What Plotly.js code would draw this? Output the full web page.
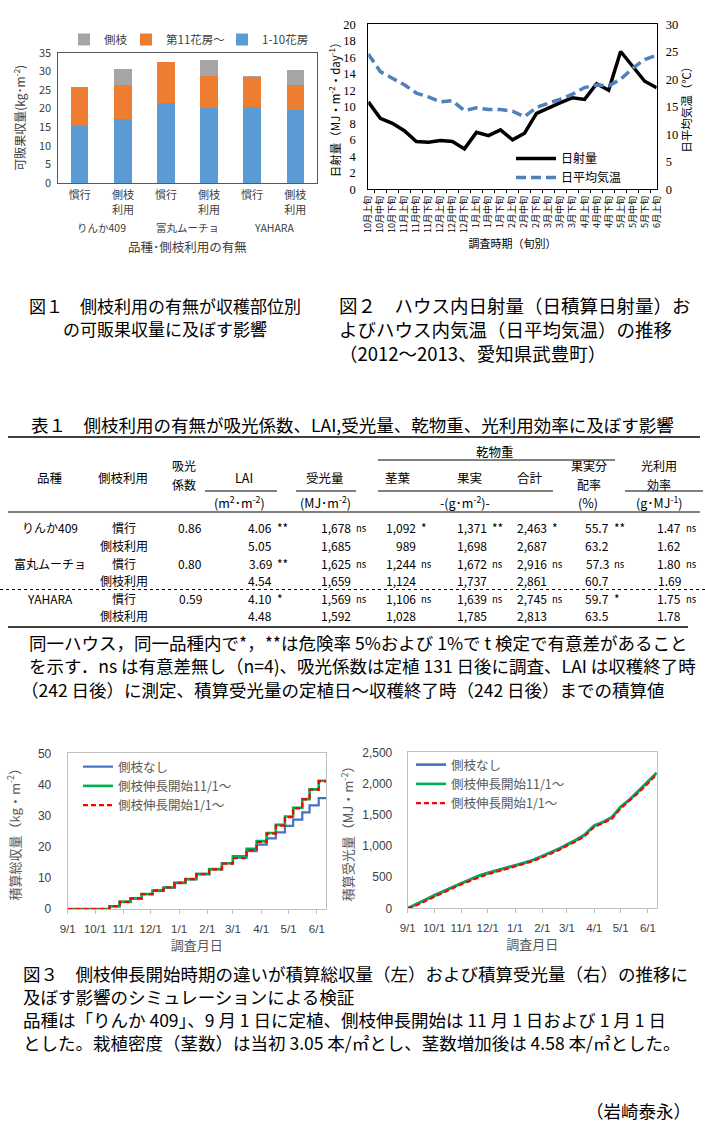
<!DOCTYPE html>
<html><head><meta charset="utf-8">
<script src="https://cdn.plot.ly/plotly-3.0.1.min.js"></script>
<style>html,body{margin:0;padding:0;background:#fff}#chart{width:705px;height:1140px}</style>
</head><body><div id="chart"></div><script>
const W = 705, H = 1140;
const px = x => x / W, py = y => 1 - y / H;
const JP = '"Noto Sans CJK JP", sans-serif';
const SERIF = '"Liberation Serif", "Noto Sans CJK JP", serif';

// ---------- Figure 1 data ----------
const fig1Cats = ['りんか409 慣行', 'りんか409 側枝利用', '富丸ムーチョ 慣行', '富丸ムーチョ 側枝利用', 'YAHARA 慣行', 'YAHARA 側枝利用'];
const fig1TickText = ['慣行', '側枝<br>利用', '慣行', '側枝<br>利用', '慣行', '側枝<br>利用'];
const fig1Groups = ['りんか409', '富丸ムーチョ', 'YAHARA'];
const truss1to10 = [15.6, 17.2, 21.4, 20.2, 20.3, 19.6];
const truss11plus = [10.2, 9.0, 11.1, 8.5, 8.3, 6.6];
const sideShoot = [0, 4.5, 0, 4.3, 0.1, 4.1];

// ---------- Figure 2 data ----------
const periods = ['10月上旬','10月中旬','10月下旬','11月上旬','11月中旬','11月下旬','12月上旬','12月中旬','12月下旬','1月上旬','1月中旬','1月下旬','2月上旬','2月中旬','2月下旬','3月上旬','3月中旬','3月下旬','4月上旬','4月中旬','4月下旬','5月上旬','5月中旬','5月下旬','6月上旬'];
const solar = [10.6, 8.6, 8.0, 7.1, 5.8, 5.7, 5.9, 5.8, 4.9, 6.9, 6.5, 7.2, 6.0, 6.8, 9.2, 9.9, 10.5, 11.1, 10.9, 12.8, 12.0, 16.7, 14.9, 13.1, 12.3];
const meanTemp = [24.6, 21.4, 20.2, 19.0, 17.5, 16.8, 15.9, 16.1, 14.3, 14.8, 14.5, 14.5, 14.2, 13.2, 14.9, 15.6, 16.4, 17.3, 18.5, 19.0, 18.8, 20.0, 22.0, 23.6, 24.4];

// ---------- Figure 3 left data (step dates) ----------
const yieldDates = ['2012-09-01','2012-10-17','2012-10-28','2012-11-09','2012-11-21','2012-12-03','2012-12-15','2012-12-27','2013-01-08','2013-01-20','2013-02-03','2013-02-17','2013-03-01','2013-03-16','2013-03-27','2013-04-07','2013-04-17','2013-04-27','2013-05-06','2013-05-16','2013-05-24','2013-06-03','2013-06-11'];
const yieldNoShoot = [0, 0.9, 2.3, 3.4, 4.8, 5.9, 6.9, 8.4, 9.6, 11.3, 12.8, 14.7, 16.5, 18.6, 20.7, 22.7, 24.6, 26.7, 28.7, 31.0, 33.3, 35.6, 35.6];
const yieldNov = [0, 0.9, 2.3, 3.4, 4.8, 5.9, 6.9, 8.4, 9.6, 11.2, 12.8, 14.7, 16.9, 19.3, 21.8, 24.4, 27.0, 29.7, 32.5, 35.3, 38.4, 41.2, 41.2];
const yieldJan = [0, 0.9, 2.3, 3.4, 4.8, 5.9, 6.9, 8.4, 9.6, 11.2, 12.7, 14.6, 16.3, 18.9, 21.5, 24.2, 26.8, 29.5, 32.3, 35.2, 38.3, 41.0, 41.0];

// ---------- Figure 3 right data ----------
const lightDates = ['2012-09-01','2012-09-11','2012-09-21','2012-10-01','2012-10-11','2012-10-21','2012-11-01','2012-11-11','2012-11-21','2012-12-01','2012-12-11','2012-12-21','2013-01-01','2013-01-11','2013-01-21','2013-02-01','2013-02-11','2013-02-21','2013-03-01','2013-03-11','2013-03-21','2013-04-01','2013-04-11','2013-04-21','2013-05-01','2013-05-11','2013-05-21','2013-06-01','2013-06-11'];
const lightNoShoot = [0, 75, 140, 210, 272, 340, 410, 462, 525, 570, 605, 645, 690, 730, 775, 840, 900, 965, 1025, 1095, 1180, 1330, 1385, 1460, 1630, 1745, 1880, 2030, 2175];
const lightNov = [0, 68, 132, 202, 264, 332, 402, 455, 517, 562, 598, 638, 683, 723, 768, 832, 892, 956, 1016, 1086, 1170, 1320, 1377, 1451, 1620, 1735, 1868, 2018, 2165];
const lightJan = [0, 50, 115, 185, 248, 315, 385, 440, 500, 548, 585, 625, 670, 712, 755, 818, 878, 942, 1002, 1070, 1155, 1305, 1365, 1435, 1600, 1718, 1850, 2000, 2150];

// ---------- Table data ----------
const tblVarieties = ['りんか409', '富丸ムーチョ', 'YAHARA'];
const tblTreatments = ['慣行', '側枝利用'];
const tblExtinction = ['0.86', '0.80', '0.59'];
const tblLAI = ['4.06','5.05','3.69','4.54','4.10','4.48'];
const tblLAISig = ['**','','**','','*',''];
const tblLight = ['1,678','1,685','1,625','1,659','1,569','1,592'];
const tblLightSig = ['ns','','ns','','ns',''];
const tblStem = ['1,092','989','1,244','1,124','1,106','1,028'];
const tblStemSig = ['*','','ns','','ns',''];
const tblFruit = ['1,371','1,698','1,672','1,737','1,639','1,785'];
const tblFruitSig = ['**','','ns','','ns',''];
const tblTotal = ['2,463','2,687','2,916','2,861','2,745','2,813'];
const tblTotalSig = ['*','','ns','','ns',''];
const tblRatio = ['55.7','63.2','57.3','60.7','59.7','63.5'];
const tblRatioSig = ['**','','ns','','*',''];
const tblRUE = ['1.47','1.62','1.80','1.69','1.75','1.78'];
const tblRUESig = ['ns','','ns','','ns',''];

// ---------- Texts ----------
const cap1 = ['図１　側枝利用の有無が収穫部位別', 'の可販果収量に及ぼす影響'];
const cap2 = ['図２　ハウス内日射量（日積算日射量）お', 'よびハウス内気温（日平均気温）の推移', '（2012～2013、愛知県武豊町）'];
const tblTitle = '表１　側枝利用の有無が吸光係数、LAI,受光量、乾物重、光利用効率に及ぼす影響';
const tblNote = ['同一ハウス，同一品種内で*，**は危険率 5%および 1%で t 検定で有意差があること',
  'を示す．ns は有意差無し（n=4)、吸光係数は定植 131 日後に調査、LAI は収穫終了時',
  '（242 日後）に測定、積算受光量の定植日～収穫終了時（242 日後）までの積算値'];
const cap3 = ['図３　側枝伸長開始時期の違いが積算総収量（左）および積算受光量（右）の推移に',
  '及ぼす影響のシミュレーションによる検証',
  '品種は「りんか 409」、9 月 1 日に定植、側枝伸長開始は 11 月 1 日および 1 月 1 日',
  'とした。栽植密度（茎数）は当初 3.05 本/㎡とし、茎数増加後は 4.58 本/㎡とした。'];
const author = '（岩崎泰永）';

// ---------- Traces ----------
const traces = [
  {type:'bar', x:fig1Cats, y:truss1to10, name:'1-10花房', marker:{color:'#5b9bd5'}, xaxis:'x', yaxis:'y', legend:'legend6'},
  {type:'bar', x:fig1Cats, y:truss11plus, name:'第11花房～', marker:{color:'#ed7d31'}, xaxis:'x', yaxis:'y', legend:'legend5'},
  {type:'bar', x:fig1Cats, y:sideShoot, name:'側枝', marker:{color:'#a5a5a5'}, xaxis:'x', yaxis:'y', legend:'legend'},

  {type:'scatter', mode:'lines', x:periods, y:solar, name:'日射量', line:{color:'#000', width:3.5}, xaxis:'x2', yaxis:'y2', legend:'legend2', legendgroup:'a'},
  {type:'scatter', mode:'lines', x:periods, y:meanTemp, name:'日平均気温', line:{color:'#4f81bd', width:3.5, dash:'10px,5px'}, xaxis:'x2', yaxis:'y3', legend:'legend2', legendgroup:'b'},

  {type:'scatter', mode:'lines', x:yieldDates, y:yieldNoShoot, name:'側枝なし', line:{color:'#4472c4', width:2.2, shape:'hv'}, xaxis:'x3', yaxis:'y4', legend:'legend3'},
  {type:'scatter', mode:'lines', x:yieldDates, y:yieldNov, name:'側枝伸長開始11/1～', line:{color:'#00b050', width:2.6, shape:'hv'}, xaxis:'x3', yaxis:'y4', legend:'legend3'},
  {type:'scatter', mode:'lines', x:yieldDates, y:yieldJan, name:'側枝伸長開始1/1～', line:{color:'#ff0000', width:2.2, shape:'hv', dash:'5px,3px'}, xaxis:'x3', yaxis:'y4', legend:'legend3'},

  {type:'scatter', mode:'lines', x:lightDates, y:lightNoShoot, name:'側枝なし', line:{color:'#4472c4', width:2.6}, xaxis:'x4', yaxis:'y5', legend:'legend4'},
  {type:'scatter', mode:'lines', x:lightDates, y:lightNov, name:'側枝伸長開始11/1～', line:{color:'#00b050', width:2.6}, xaxis:'x4', yaxis:'y5', legend:'legend4'},
  {type:'scatter', mode:'lines', x:lightDates, y:lightJan, name:'側枝伸長開始1/1～', line:{color:'#ff0000', width:2.2, dash:'5px,3px'}, xaxis:'x4', yaxis:'y5', legend:'legend4'}
];

// ---------- Annotations ----------
const ann = [];
function txt(text, x, y, size, opts) {
  ann.push(Object.assign({text:text, x:px(x), y:py(y), xref:'paper', yref:'paper', showarrow:false, borderpad:0,
    xanchor:'left', yanchor:'middle', font:{family:JP, size:size, color:'#000'}}, opts || {}));
}
// figure 1 group labels (on category scale)
fig1Groups.forEach((g, i) => {
  ann.push({text:g, x:2*i + 0.5, xref:'x', y:py(228), yref:'paper', showarrow:false, borderpad:0, xanchor:'center', yanchor:'middle',
    font:{family:JP, size:10.5, color:'#404040'}});
});
cap1.forEach((t, i) => txt(t, i === 0 ? 28 : 62, 305 + i*23.5, 17));
cap2.forEach((t, i) => txt(t, 338, 305 + i*24, 18.5));
txt(tblTitle, 30, 425, 17.5);
tblNote.forEach((t, i) => txt(t, i === 2 ? 20 : 28, 642 + i*23.5, 17.5));
cap3.forEach((t, i) => txt(t, 22, 973 + i*23, 17.5));
txt(author, 692, 1110, 17.5, {xanchor:'right'});

// table header
const TF = 12;
const hdr = (t, x, y, s) => txt(t, x, y, s || TF + 0.5, {xanchor:'center'});
hdr('乾物重', 495, 451);
hdr('品種', 50, 477); hdr('側枝利用', 123, 477);
hdr('吸光', 184, 466, TF); hdr('係数', 184, 484, TF);
hdr('LAI', 244, 477); hdr('受光量', 325, 477); hdr('茎葉', 398, 477); hdr('果実', 469, 477); hdr('合計', 530, 477);
hdr('果実分', 589, 466, TF); hdr('配率', 589, 484, TF);
hdr('光利用', 659, 466, TF); hdr('効率', 659, 484, TF);
hdr('(m<sup>2</sup>･m<sup>-2</sup>)', 239, 503); hdr('(MJ･m<sup>-2</sup>)', 325, 503);
hdr('-(g･m<sup>-2</sup>)-', 465, 503); hdr('(%)', 588, 503); hdr('(g･MJ<sup>-1</sup>)', 659, 503);
// table body
const rowY = [527, 545, 563, 580.5, 598, 615.5];
const numCols = [[tblLAI, tblLAISig, 273], [tblLight, tblLightSig, 352], [tblStem, tblStemSig, 417], [tblFruit, tblFruitSig, 488],
  [tblTotal, tblTotalSig, 548], [tblRatio, tblRatioSig, 610], [tblRUE, tblRUESig, 682]];
rowY.forEach((y, r) => {
  if (r % 2 === 0) {
    txt(tblVarieties[r/2], 50, y, TF, {xanchor:'center'});
    txt(tblExtinction[r/2], 190, y, TF, {xanchor:'center'});
  }
  txt(tblTreatments[r % 2], 124, y, TF, {xanchor:'center'});
  numCols.forEach(([vals, sig, xr]) => {
    txt(vals[r], xr, y, TF, {xanchor:'right'});
    if (sig[r]) txt(sig[r], xr + 3, sig[r] === 'ns' ? y + 1 : y, sig[r] === 'ns' ? 9.5 : TF);
  });
});

// ---------- Shapes (table rules) ----------
const shapes = [];
function hline(x0, x1, y, w, dash) {
  shapes.push({type:'line', xref:'paper', yref:'paper', x0:px(x0), x1:px(x1), y0:py(y), y1:py(y),
    line:{color:'#000', width:w, dash:dash || 'solid'}});
}
hline(8, 700, 437, 1.5);
hline(378, 615, 460, 1);
hline(205, 277, 491, 1); hline(296, 356, 491, 1); hline(378, 553, 491, 1); hline(625, 703, 491, 1);
hline(8, 700, 512, 1);
hline(0, 705, 589.5, 1, 'dot');
hline(8, 688, 627, 1.5);

// ---------- Layout ----------
const dateAxis = (dom, anchor) => ({domain:dom, anchor:anchor, type:'date', range:['2012-09-01','2013-06-11'],
  dtick:'M1', tick0:'2012-09-01', tickformat:'%-m/%-d', tickangle:0, ticks:'outside', ticklen:4, tickcolor:'#bfbfbf',
  showline:true, mirror:true, linecolor:'#bfbfbf', showgrid:false, zeroline:false,
  tickfont:{family:'"Liberation Sans", sans-serif', size:11.5, color:'#404040'}, ticklabelstandoff:5,
  title:{text:'調査月日', font:{family:JP, size:13, color:'#595959'}, standoff:5}});

const legBase = (x, y, size, color) => ({x:px(x), y:py(y), xanchor:'left', yanchor:'top', bgcolor:'rgba(0,0,0,0)',
  font:{family:JP, size:size, color:color}, itemwidth:30});

const layout = {
  width:W, height:H, margin:{l:0, r:0, t:0, b:0}, paper_bgcolor:'#fff', plot_bgcolor:'rgba(0,0,0,0)',
  barmode:'stack', bargap:0.6, showlegend:true, font:{family:JP},
  xaxis:{domain:[px(58.3), px(316.7)], anchor:'y', type:'category', tickvals:fig1Cats, ticktext:fig1TickText,
    showline:true, mirror:true, linecolor:'#595959', ticks:'', tickfont:{family:JP, size:11, color:'#404040'}, ticklabelstandoff:2,
    title:{text:'品種･側枝利用の有無', font:{family:JP, size:12.5, color:'#404040'}, standoff:27}},
  yaxis:{domain:[py(183), py(52.7)], anchor:'x', range:[0, 35], dtick:5, showgrid:false, zeroline:false,
    showline:true, mirror:true, linecolor:'#595959', ticks:'', tickfont:{family:JP, size:11, color:'#404040'}, ticklabelstandoff:4,
    title:{text:'可販果収量(kg･m<sup>-2</sup>)', font:{family:JP, size:12, color:'#404040'}, standoff:10}},

  xaxis2:{domain:[px(368.3), px(656.7)], anchor:'y2', type:'category', showline:true, mirror:true, linecolor:'#000',
    ticks:'outside', tickson:'boundaries', ticklen:3, tickcolor:'#000', tickangle:-90, showgrid:false,
    tickfont:{family:JP, size:9, color:'#000'}, ticklabelstandoff:2,
    title:{text:'調査時期（旬別）', font:{family:JP, size:11, color:'#000'}, standoff:8}},
  yaxis2:{domain:[py(189.3), py(24.3)], anchor:'x2', range:[0, 20], dtick:2, showgrid:false, zeroline:false,
    showline:true, mirror:true, linecolor:'#000', ticks:'', tickfont:{family:SERIF, size:12.5, color:'#000'}, ticklabelstandoff:9,
    title:{text:'日射量（MJ・m<sup>-2</sup>・day<sup>-1</sup>）', font:{family:JP, size:11.5, color:'#000'}, standoff:0}},
  yaxis3:{overlaying:'y2', side:'right', anchor:'x2', range:[0, 30], dtick:5, showgrid:false, zeroline:false,
    ticks:'', tickfont:{family:SERIF, size:12.5, color:'#000'}, ticklabelstandoff:8,
    title:{text:'日平均気温（℃）', font:{family:JP, size:11.5, color:'#000'}, standoff:1}},

  xaxis3:dateAxis([px(67.7), px(326)], 'y4'),
  yaxis4:{domain:[py(909), py(753.3)], anchor:'x3', range:[0, 50], dtick:10, showgrid:false, zeroline:false,
    showline:true, mirror:true, linecolor:'#bfbfbf', ticks:'', tickfont:{family:'"Liberation Sans", sans-serif', size:12, color:'#404040'}, ticklabelstandoff:13,
    title:{text:'積算総収量（kg・m<sup>-2</sup>）', font:{family:JP, size:13, color:'#595959'}, standoff:14}},
  xaxis4:dateAxis([px(407.7), px(656.7)], 'y5'),
  yaxis5:{domain:[py(908.3), py(752.3)], anchor:'x4', range:[0, 2500], dtick:500, tickformat:',d', showgrid:false, zeroline:false,
    showline:true, mirror:true, linecolor:'#bfbfbf', ticks:'', tickfont:{family:'"Liberation Sans", sans-serif', size:12, color:'#404040'}, ticklabelstandoff:12,
    title:{text:'積算受光量（MJ・m<sup>-2</sup>）', font:{family:JP, size:13, color:'#595959'}, standoff:5}},

  // figure 1 legend: one legend per entry so the entries sit where the reference shows them
  legend:Object.assign(legBase(64, 25, 11.5, '#404040'), {orientation:'h'}),
  legend5:Object.assign(legBase(126, 25, 11.5, '#404040'), {orientation:'h'}),
  legend6:Object.assign(legBase(222, 25, 11.5, '#404040'), {orientation:'h'}),
  legend2:Object.assign(legBase(511, 144, 12, '#000'), {tracegroupgap:0, itemwidth:40}),
  legend3:Object.assign(legBase(78, 752, 12.5, '#595959'), {tracegroupgap:0}),
  legend4:Object.assign(legBase(411, 750, 12.5, '#595959'), {tracegroupgap:0}),

  annotations:ann, shapes:shapes
};

Plotly.newPlot('chart', traces, layout, {staticPlot:true, displayModeBar:false});
</script></body></html>
